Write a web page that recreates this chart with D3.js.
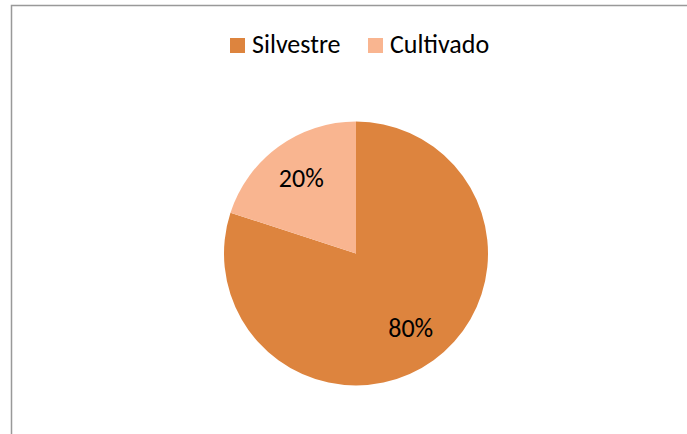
<!DOCTYPE html>
<html>
<head>
<meta charset="utf-8">
<script src="https://cdn.jsdelivr.net/npm/d3@7"></script>
<style>
  body { margin: 0; background: #fff; }
  svg { display: block; font-family: Calibri, Carlito, "Open Sans", sans-serif; }
</style>
</head>
<body>
<div id="chart"></div>
<script>
var categories = ["Silvestre", "Cultivado"];
var values = [80, 20];
var colors = ["#DD843E", "#F9B590"];

var width = 687, height = 434;
var svg = d3.select("#chart").append("svg")
    .attr("width", width)
    .attr("height", height);

// frame (right and bottom edges fall outside the picture)
svg.append("path")
    .attr("d", "M11.5," + height + "V5.5H" + width)
    .attr("fill", "none")
    .attr("stroke", "#999")
    .attr("stroke-width", 1.5);

var cx = 356, cy = 253.5, r = 132;

var pie = d3.pie().sort(null).value(function(d){ return d; });
var arcs = pie(values);
var arc = d3.arc().innerRadius(0).outerRadius(r);
var labelArc = d3.arc().innerRadius(r * 0.705).outerRadius(r * 0.705);

var g = svg.append("g").attr("transform", "translate(" + cx + "," + cy + ")");
g.selectAll("path.slice")
    .data(arcs)
    .enter()
    .append("path")
    .attr("class", "slice")
    .attr("d", arc)
    .attr("fill", function(d, i){ return colors[i]; });

var total = d3.sum(values);
g.selectAll("text.lbl")
    .data(arcs)
    .enter()
    .append("text")
    .attr("class", "lbl")
    .attr("transform", function(d){ return "translate(" + labelArc.centroid(d) + ")"; })
    .attr("text-anchor", "middle")
    .attr("dy", "0.32em")
    .attr("font-size", 26)
    .attr("fill", "#000")
    .text(function(d){ return Math.round(d.data / total * 100) + "%"; });

// legend
var legendX = [230, 368];
var legend = svg.selectAll("g.legend")
    .data(categories)
    .enter()
    .append("g")
    .attr("class", "legend")
    .attr("transform", function(d, i){ return "translate(" + legendX[i] + ",38)"; });
legend.append("rect")
    .attr("width", 15)
    .attr("height", 15)
    .attr("fill", function(d, i){ return colors[i]; });
legend.append("text")
    .attr("x", 22)
    .attr("y", 15)
    .attr("font-size", 26)
    .attr("fill", "#000")
    .text(function(d){ return d; });
</script>
</body>
</html>
